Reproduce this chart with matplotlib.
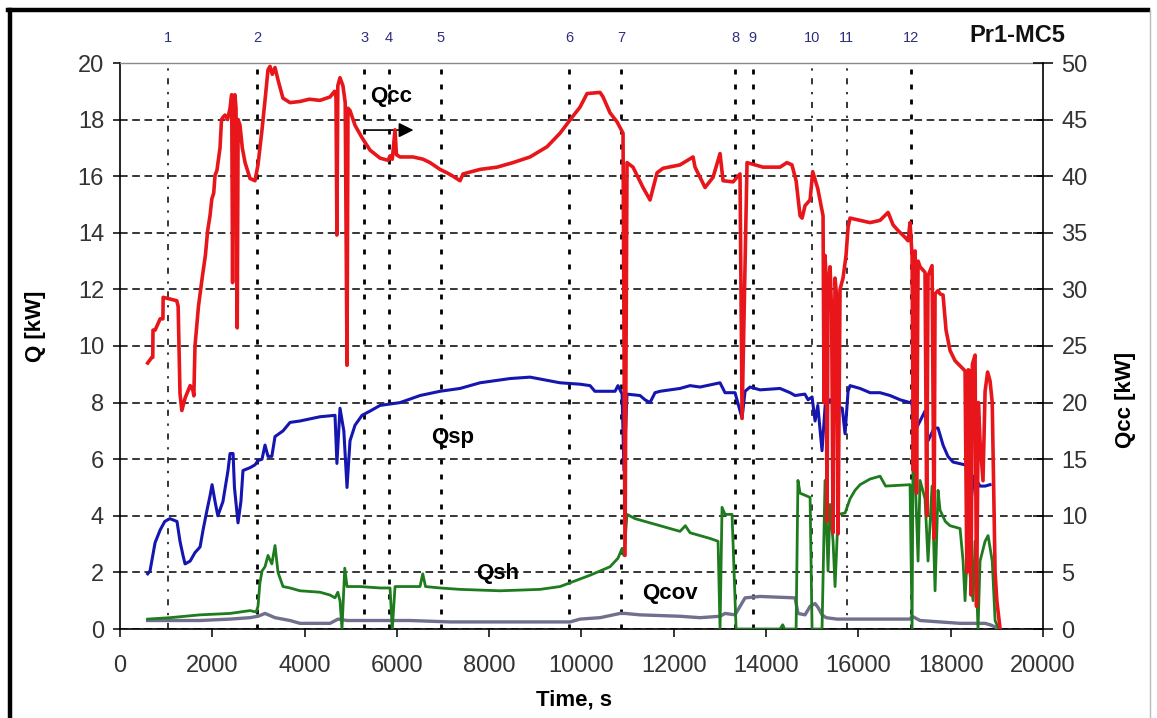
import matplotlib
matplotlib.use("Agg")
import matplotlib.pyplot as plt
from matplotlib.lines import Line2D

plt.rcParams['font.family'] = ['Liberation Sans', 'DejaVu Sans']

# Qcc, right axis [kW]
red_t = [600, 690, 710, 715, 760, 870, 930, 935, 1230, 1260,
         1300, 1340, 1410, 1520, 1580, 1600, 1625, 1700, 1780, 1850,
         1900, 1950, 1990, 2030, 2060, 2100, 2167, 2200, 2230, 2275,
         2330, 2384, 2420, 2440, 2460, 2490, 2514, 2540, 2560, 2600,
         2650, 2710, 2817, 2925, 2990, 3077, 3142, 3207, 3251, 3300,
         3359, 3424, 3530, 3684, 3900, 4100, 4334, 4551, 4650, 4680,
         4700, 4720, 4767, 4830, 4880, 4919, 4940, 4984, 5092, 5244,
         5418, 5634, 5808, 5851, 5900, 5959, 5990, 6068, 6349, 6566,
         6718, 6934, 7086, 7216, 7368, 7433, 7800, 8170, 8516, 8885,
         9253, 9535, 9795, 9968, 10120, 10402, 10467, 10618, 10770, 10900,
         10943, 10986, 11116, 11333, 11485, 11637, 11767, 12135, 12417, 12460,
         12677, 12850, 13002, 13067, 13284, 13435, 13479, 13587, 13934, 14302,
         14450, 14560, 14650, 14736, 14780, 14844, 14953, 15010, 15120, 15234,
         15255, 15277, 15300, 15320, 15342, 15386, 15420, 15451, 15494, 15537,
         15560, 15602, 15667, 15732, 15776, 15819, 16036, 16253, 16469, 16643,
         16751, 16859, 17011, 17076, 17119, 17163, 17190, 17228, 17260, 17293,
         17336, 17444, 17480, 17509, 17596, 17640, 17661, 17726, 17769, 17834,
         17899, 17986, 18094, 18311, 18350, 18380, 18420, 18440, 18470, 18528,
         18560, 18600, 18636, 18700, 18745, 18800, 18853, 18900, 18962, 19000,
         19070]
red_q = [23.5, 24.0, 24.0, 26.4, 26.4, 27.4, 27.4, 29.3, 29.0, 28.5,
         20.8, 19.3, 20.4, 21.5, 21.1, 20.6, 25.0, 28.5, 31.0, 33.0,
         35.2, 36.5, 38.0, 38.5, 40.1, 40.5, 42.5, 45.0, 45.2, 45.4,
         45.0, 46.0, 47.2, 30.6, 46.5, 47.2, 46.0, 26.6, 45.0, 44.5,
         42.5, 41.2, 39.8, 39.6, 41.0, 44.1, 46.7, 49.4, 49.7, 49.0,
         49.6, 48.5, 46.9, 46.5, 46.6, 46.8, 46.7, 47.0, 47.5, 47.0,
         34.8, 48.0, 48.7, 48.0, 46.5, 23.3, 46.0, 45.8, 44.5, 43.4,
         42.3, 41.6, 41.4, 41.8, 41.5, 44.1, 41.9, 41.7, 41.7, 41.5,
         41.2, 40.6, 40.3, 40.0, 39.6, 40.2, 40.6, 40.8, 41.2, 41.7,
         42.6, 43.8, 45.2, 46.1, 47.3, 47.4, 47.0, 45.6, 44.8, 43.8,
         6.5, 41.2, 40.8, 39.0, 37.9, 40.3, 40.7, 41.0, 41.7, 40.8,
         39.0, 39.9, 42.0, 39.6, 39.5, 40.2, 18.6, 41.2, 40.8, 40.8,
         41.2, 41.0, 39.6, 36.5, 36.3, 37.4, 37.9, 40.4, 38.9, 36.5,
         20.0, 33.0, 31.0, 9.5, 30.0, 32.0, 28.0, 8.5, 31.0, 29.0,
         8.4, 30.0, 31.0, 33.0, 35.5, 36.3, 36.1, 35.9, 36.1, 36.8,
         35.7, 35.2, 34.6, 34.3, 35.9, 33.0, 14.0, 33.4, 12.0, 32.5,
         32.0, 31.5, 10.0, 31.2, 32.1, 8.0, 29.6, 29.9, 29.6, 29.5,
         26.4, 24.6, 23.7, 22.8, 5.0, 22.9, 22.8, 3.0, 23.4, 24.2,
         2.0, 20.0, 16.6, 13.1, 21.0, 22.7, 21.9, 20.0, 5.0, 2.5,
         0.0]

# Qsp, left axis [kW]
blue_t = [600, 650, 760, 870, 970, 1080, 1235, 1300, 1365, 1410,
          1520, 1625, 1735, 1800, 1885, 1950, 1995, 2060, 2120, 2230,
          2340, 2384, 2450, 2480, 2557, 2620, 2665, 2817, 2925, 2990,
          3077, 3142, 3207, 3290, 3359, 3532, 3684, 3900, 4334, 4659,
          4700, 4767, 4850, 4919, 4984, 5092, 5244, 5418, 5634, 5851,
          6068, 6501, 6934, 7368, 7801, 8235, 8451, 8885, 9210, 9535,
          9968, 10185, 10290, 10727, 10790, 10880, 10920, 10986, 11268, 11376,
          11485, 11593, 11702, 12135, 12352, 12569, 13002, 13110, 13327, 13479,
          13544, 13652, 13869, 14302, 14520, 14627, 14840, 14909, 14996, 15061,
          15120, 15212, 15280, 15386, 15494, 15650, 15711, 15776, 15819, 16036,
          16253, 16469, 16686, 16903, 17119, 17163, 17190, 17228, 17336, 17444,
          17509, 17640, 17726, 17834, 17940, 18050, 18311, 18420, 18440, 18500,
          18636, 18745, 18853]
blue_q = [1.95, 2.05, 3.05, 3.5, 3.8, 3.9, 3.8, 3.1, 2.6, 2.3,
          2.4, 2.7, 2.9, 3.5, 4.2, 4.7, 5.1, 4.5, 4.0, 4.5,
          5.6, 6.2, 6.2, 5.0, 3.75, 4.5, 5.6, 5.7, 5.8, 5.95,
          6.0, 6.5, 6.1, 6.1, 6.8, 7.0, 7.3, 7.35, 7.5, 7.55,
          5.85, 7.8, 7.0, 5.0, 6.65, 7.2, 7.55, 7.7, 7.9, 7.95,
          8.0, 8.25, 8.4, 8.5, 8.7, 8.8, 8.85, 8.9, 8.8, 8.7,
          8.65, 8.6, 8.4, 8.4, 8.6, 8.3, 5.6, 8.3, 8.25, 8.1,
          8.0, 8.35, 8.4, 8.5, 8.6, 8.55, 8.7, 8.35, 8.35, 7.45,
          8.4, 8.55, 8.45, 8.5, 8.35, 8.25, 8.3, 8.1, 8.2, 7.35,
          7.9, 6.3, 7.9, 8.1, 7.9, 7.8, 6.9, 8.4, 8.6, 8.5,
          8.35, 8.35, 8.25, 8.1, 8.0, 8.0, 6.65, 7.0, 7.35, 7.7,
          6.65, 7.1, 7.1, 6.5, 6.1, 5.9, 5.8, 5.6, 4.5, 5.4,
          5.05, 5.05, 5.1]

# Qsh, left axis [kW]
green_t = [600, 1080, 1734, 2384, 2817, 2950, 2990, 3030, 3077, 3142,
           3207, 3290, 3359, 3424, 3532, 3684, 3901, 4334, 4551, 4659,
           4720, 4767, 4810, 4870, 4919, 5200, 5634, 5851, 5900, 5960,
           6501, 6560, 6620, 6934, 7368, 8235, 9101, 9535, 9860, 10185,
           10402, 10618, 10790, 10880, 10920, 10986, 11160, 11702, 12135, 12250,
           12352, 12569, 12785, 12959, 13002, 13045, 13110, 13262, 13350, 14302,
           14360, 14400, 14650, 14690, 14736, 14953, 14996, 15212, 15277, 15342,
           15386, 15451, 15494, 15560, 15711, 15819, 15927, 16036, 16253, 16469,
           16590, 17119, 17163, 17184, 17228, 17293, 17336, 17444, 17509, 17596,
           17661, 17726, 17769, 17884, 17986, 18203, 18268, 18311, 18376, 18420,
           18485, 18528, 18592, 18636, 18745, 18810, 18900, 18962, 19040]
green_q = [0.35, 0.4, 0.5, 0.55, 0.65, 0.6, 0.8, 1.6, 2.05, 2.2,
           2.6, 2.3, 2.95, 2.0, 1.5, 1.45, 1.35, 1.3, 1.2, 1.1,
           1.3, 1.0, 0.0, 2.15, 1.5, 1.5, 1.45, 1.45, 0.0, 1.5,
           1.5, 1.95, 1.5, 1.45, 1.4, 1.35, 1.4, 1.5, 1.7, 1.9,
           2.05, 2.2, 2.5, 2.85, 2.6, 4.05, 3.9, 3.65, 3.45, 3.65,
           3.4, 3.3, 3.2, 3.1, 0.0, 4.3, 4.05, 4.05, 0.0, 0.0,
           0.15, 0.0, 0.0, 5.25, 4.8, 4.65, 0.0, 0.0, 5.25, 2.05,
           4.4, 3.1, 1.5, 4.05, 4.1, 4.6, 4.9, 5.1, 5.3, 5.4,
           5.05, 5.1, 0.0, 6.3, 5.5, 2.4, 5.25, 4.6, 2.4, 5.05,
           1.35, 4.9, 4.2, 3.8, 3.65, 3.55, 2.4, 1.0, 3.3, 1.9,
           1.0, 3.1, 0.0, 2.4, 3.1, 3.3, 2.4, 0.3, 0.0]

# Qcov, left axis [kW]
gray_t = [600, 1734, 2384, 2817, 2990, 3142, 3359, 3684, 3901, 4551,
          4724, 4919, 6284, 7151, 9752, 9968, 10402, 10835, 10943, 11268,
          12135, 12569, 13002, 13110, 13327, 13435, 13544, 13869, 14627, 14692,
          14844, 14953, 15061, 15130, 15212, 15300, 15537, 15819, 17119, 17163,
          17336, 17769, 18203, 18745, 18853, 19070]
gray_q = [0.3, 0.3, 0.35, 0.4, 0.45, 0.55, 0.4, 0.3, 0.2, 0.2,
          0.35, 0.3, 0.3, 0.25, 0.25, 0.35, 0.4, 0.55, 0.55, 0.5,
          0.45, 0.4, 0.45, 0.55, 0.5, 0.8, 1.1, 1.15, 1.1, 0.55,
          0.5, 0.8, 0.9, 0.75, 0.5, 0.4, 0.35, 0.35, 0.35, 0.45,
          0.3, 0.25, 0.2, 0.2, 0.15, 0.0]

event_t = [1040, 2970, 5290, 5830, 6950, 9730, 10860, 13330, 13710, 14990, 15750, 17130]
event_lbl = ['1', '2', '3', '4', '5', '6', '7', '8', '9', '10', '11', '12']
thin_events = ['1', '10', '11']

W, H = 1157, 718
fig = plt.figure(figsize=(W / 100, H / 100), dpi=100)
ax = fig.add_axes([120 / W, 1 - 629 / H, 923 / W, 566 / H])
ax2 = ax.twinx()

tick_col = '#333333'
ax.set_xlim(0, 20000)
ax.set_ylim(0, 20)
ax2.set_ylim(0, 50)
ax.set_xticks(range(0, 20001, 2000))
ax.set_yticks(range(0, 21, 2))
ax2.set_yticks(range(0, 51, 5))

ax.yaxis.grid(True, linestyle=(0, (5, 3)), color='black', lw=1.1)
ax.set_axisbelow(True)

for t, lbl in zip(event_t, event_lbl):
    if lbl in thin_events:
        ax.axvline(t, color='black', lw=1.1, linestyle=(0, (4, 5, 1.5, 5)), zorder=1)
    else:
        ax.axvline(t, color='black', lw=2.0, linestyle=(0, (1.8, 3.6)), zorder=1)
    ax.text(t, 1.044, lbl, transform=ax.get_xaxis_transform(), ha='center', va='center',
            fontsize=10.5, color='#2e2e80')

ax.plot(gray_t, gray_q, color='#70708e', lw=2.4, zorder=3)
ax.plot(green_t, green_q, color='#1e7b1e', lw=2.0, zorder=4)
ax.plot(blue_t, blue_q, color='#1515b0', lw=2.2, zorder=5)
ax2.plot(red_t, red_q, color='#e8161b', lw=2.6, zorder=6)

for sp in ['top', 'left', 'bottom']:
    ax2.spines[sp].set_visible(False)
ax.spines['right'].set_visible(False)
ax.spines['top'].set_color('#8a8a8a')
ax.spines['top'].set_linewidth(1.0)
for sp in ['left', 'bottom']:
    ax.spines[sp].set_color('black')
    ax.spines[sp].set_linewidth(1.2)
ax2.spines['right'].set_color('black')
ax2.spines['right'].set_linewidth(1.2)

ax.tick_params(axis='y', direction='out', length=5, width=1.1, pad=6.5,
               labelsize=17, labelcolor=tick_col)
ax.tick_params(axis='x', direction='out', length=5.8, width=1.1, pad=13,
               labelsize=17, labelcolor=tick_col)
ax2.tick_params(axis='y', direction='inout', length=13.7, width=1.1, pad=6.5,
                labelsize=17, labelcolor=tick_col)

bold = dict(fontweight='bold', fontsize=16, color='black')
ax.text(5873, 18.8, 'Qcc', ha='center', va='center', **bold)
ax.annotate('', xy=(6420, 17.63), xytext=(5240, 17.63),
            arrowprops=dict(arrowstyle='-|>', color='black', lw=1.2, mutation_scale=22))
ax.text(7216, 6.76, 'Qsp', ha='center', va='center', **bold)
ax.text(8191, 1.95, 'Qsh', ha='center', va='center', **bold)
ax.text(11918, 1.27, 'Qcov', ha='center', va='center', **bold)

fig.text(35 / W, 1 - 326 / H, 'Q [kW]', rotation=90, ha='center', va='center', **bold)
fig.text(1125 / W, 1 - 400 / H, 'Qcc [kW]', rotation=90, ha='center', va='center', **bold)
fig.text(574 / W, 1 - 700 / H, 'Time, s', ha='center', va='center', **bold)
fig.text(1017 / W, 1 - 35 / H, 'Pr1-MC5', ha='center', va='center',
         fontweight='bold', fontsize=17, color='#111111')

# outer frame
fig.add_artist(Line2D([9.5 / W, 9.5 / W], [0, 1 - 9.5 / H], transform=fig.transFigure,
                      color='black', lw=3.2))
fig.add_artist(Line2D([8 / W, 1148 / W], [1 - 9.5 / H, 1 - 9.5 / H], transform=fig.transFigure,
                      color='black', lw=3.2))
fig.add_artist(Line2D([1150 / W, 1150 / W], [0, 1 - 9.5 / H], transform=fig.transFigure,
                      color='#bbbbbb', lw=1.0))

fig.savefig('out.png', dpi=100)
